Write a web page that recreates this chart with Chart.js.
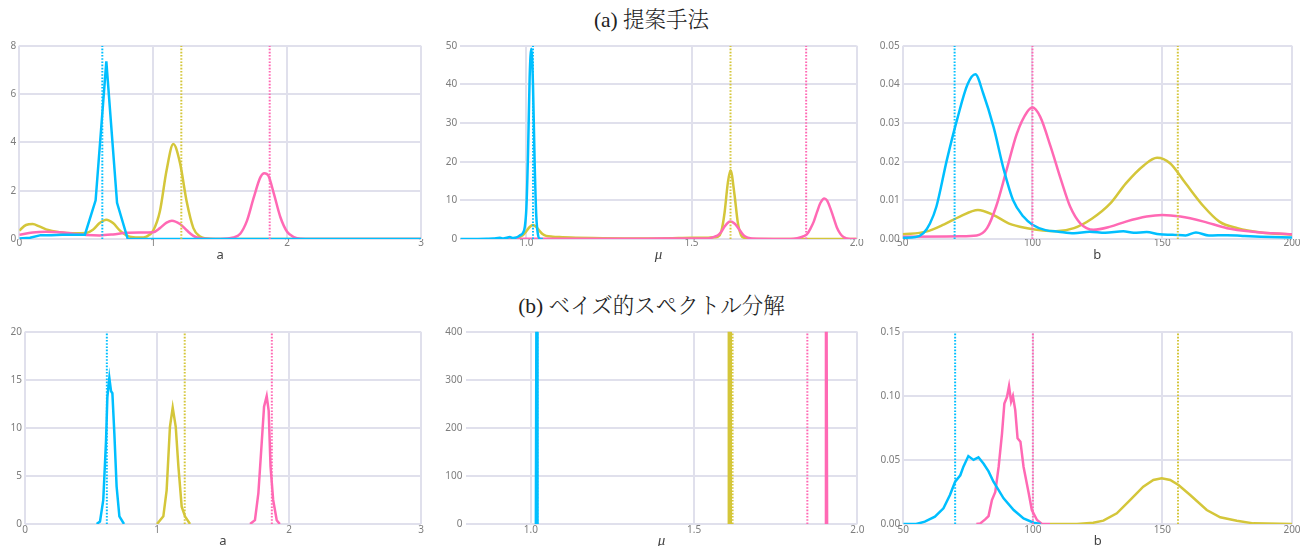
<!DOCTYPE html>
<html>
<head>
<meta charset="utf-8">
<script src="https://cdn.jsdelivr.net/npm/chart.js@4"></script>
<style>
  html, body { margin:0; padding:0; background:#fff; width:1309px; height:546px; overflow:hidden; }
  canvas { position:absolute; }
  .ttl { position:absolute; left:0; width:1303px; text-align:center; font-size:21.5px; line-height:24px;
         font-family:"Liberation Serif","Noto Serif CJK JP","Noto Sans CJK JP",serif; color:#222; font-weight:300; }
</style>
</head>
<body>
<div class="ttl" style="top:8px">(a) 提案手法</div>
<div class="ttl" style="top:294px">(b) ベイズ的スペクトル分解</div>
<canvas id="c1" width="440" height="240" style="left:0px;top:35px"></canvas>
<canvas id="c2" width="435" height="240" style="left:440px;top:35px"></canvas>
<canvas id="c3" width="434" height="240" style="left:875px;top:35px"></canvas>
<canvas id="c4" width="440" height="240" style="left:0px;top:320px"></canvas>
<canvas id="c5" width="435" height="240" style="left:440px;top:320px"></canvas>
<canvas id="c6" width="434" height="240" style="left:875px;top:320px"></canvas>
<script>
// ---------- tick labels ----------
const aTicks = [0, 1, 2, 3];
const muTicks = [1.0, 1.5, 2.0];
const bTicks = [50, 100, 150, 200];
const y1Ticks = [0, 2, 4, 6, 8];
const y2Ticks = [0, 10, 20, 30, 40, 50];
const y3Ticks = [0, 0.01, 0.02, 0.03, 0.04, 0.05];
const y4Ticks = [0, 5, 10, 15, 20];
const y5Ticks = [0, 100, 200, 300, 400];
const y6Ticks = [0, 0.05, 0.10, 0.15];

// ---------- true values (dotted lines): cyan, yellow, pink ----------
const trueA = [0.62, 1.21, 1.87];
const trueMu = [1.02, 1.618, 1.847];
const trueB = [70, 156, 100];

// ---------- (a) panel 1 : a ----------
const p1CyanX = [0, 0.08, 0.16, 0.24, 0.32, 0.41, 0.49, 0.57, 0.65, 0.73, 0.81, 0.89, 1.5, 2.0, 2.5, 3.0];
const p1CyanY = [0.02, 0.05, 0.16, 0.16, 0.18, 0.18, 0.18, 1.6, 7.35, 1.5, 0, 0, 0, 0, 0, 0];
const p1YellowX = [0, 0.05, 0.1, 0.15, 0.2, 0.3, 0.4, 0.5, 0.55, 0.6, 0.65, 0.7, 0.75, 0.8, 0.85, 0.9, 0.95, 1.0, 1.05, 1.1, 1.15, 1.2, 1.25, 1.3, 1.35, 1.4, 1.5, 2.0, 2.5, 3.0];
const p1YellowY = [0.35, 0.58, 0.62, 0.52, 0.4, 0.28, 0.24, 0.25, 0.38, 0.66, 0.8, 0.66, 0.36, 0.15, 0.07, 0.06, 0.1, 0.35, 1.15, 2.85, 3.93, 3.15, 1.55, 0.45, 0.1, 0.02, 0, 0, 0, 0];
const p1PinkX = [0, 0.1, 0.2, 0.3, 0.4, 0.5, 0.6, 0.7, 0.8, 0.9, 1.0, 1.05, 1.1, 1.14, 1.2, 1.25, 1.3, 1.35, 1.4, 1.5, 1.6, 1.65, 1.7, 1.75, 1.8, 1.83, 1.86, 1.9, 1.95, 2.0, 2.05, 2.1, 2.2, 2.5, 3.0];
const p1PinkY = [0.17, 0.27, 0.3, 0.28, 0.22, 0.17, 0.15, 0.19, 0.26, 0.27, 0.28, 0.45, 0.68, 0.76, 0.62, 0.36, 0.13, 0.03, 0.01, 0, 0.06, 0.22, 0.75, 1.7, 2.55, 2.72, 2.62, 1.9, 0.9, 0.3, 0.08, 0.01, 0, 0, 0];

// ---------- (a) panel 2 : mu ----------
const p2CyanX = [0.8, 0.85, 0.88, 0.9, 0.92, 0.93, 0.94, 0.95, 0.96, 0.97, 0.98, 0.99, 0.995, 1.0, 1.005, 1.01, 1.015, 1.02, 1.025, 1.03, 1.035, 1.04, 1.05];
const p2CyanY = [0, 0.02, 0.05, 0.1, 0.3, 0.15, 0.3, 0.5, 0.25, 0.4, 0.9, 1.6, 3, 8, 22, 42, 49.2, 40, 20, 6, 1.2, 0.1, 0];
const p2YellowX = [0.94, 0.96, 0.98, 0.99, 1.0, 1.01, 1.02, 1.03, 1.04, 1.05, 1.06, 1.08, 1.1, 1.15, 1.2, 1.3, 1.4, 1.5, 1.55, 1.57, 1.58, 1.59, 1.6, 1.61, 1.618, 1.63, 1.64, 1.65, 1.66, 1.67, 1.7, 1.8, 1.9, 2.0];
const p2YellowY = [0, 0.05, 0.5, 1.0, 2.0, 3.1, 3.6, 3.1, 2.1, 1.2, 0.8, 0.6, 0.5, 0.35, 0.25, 0.15, 0.15, 0.3, 0.35, 0.45, 0.6, 1.9, 6.8, 14.6, 17.8, 11.5, 4.3, 1.0, 0.3, 0.05, 0, 0, 0, 0];
const p2PinkX = [0.94, 1.0, 1.1, 1.2, 1.3, 1.4, 1.5, 1.55, 1.57, 1.58, 1.59, 1.6, 1.61, 1.618, 1.63, 1.64, 1.65, 1.66, 1.67, 1.7, 1.75, 1.8, 1.82, 1.84, 1.85, 1.86, 1.87, 1.88, 1.89, 1.902, 1.91, 1.92, 1.93, 1.94, 1.95, 1.96, 1.97, 1.98, 2.0];
const p2PinkY = [0, 0.05, 0.08, 0.08, 0.08, 0.1, 0.12, 0.15, 0.6, 1.0, 1.9, 3.2, 4.2, 4.5, 4.0, 3.0, 1.8, 0.8, 0.35, 0.05, 0.02, 0.02, 0.2, 0.75, 1.3, 2.7, 4.5, 7.0, 9.3, 10.5, 10.0, 8.0, 5.5, 3.0, 1.4, 0.5, 0.15, 0.03, 0];

// ---------- (a) panel 3 : b ----------
const p3CyanX = [50, 55, 58, 60.5, 63, 67, 71, 75, 78, 81, 85, 89, 92.5, 96.5, 100, 105, 110, 116, 122, 128, 135, 139, 144, 149, 154, 159, 163, 168, 175, 181, 188, 200];
const p3CyanY = [0.0003, 0.0005, 0.0015, 0.004, 0.0084, 0.0204, 0.031, 0.04, 0.0426, 0.0377, 0.029, 0.0178, 0.0101, 0.0058, 0.0037, 0.0023, 0.0019, 0.0015, 0.0019, 0.0016, 0.002, 0.0016, 0.0018, 0.0012, 0.0011, 0.0009, 0.0017, 0.0009, 0.001, 0.0008, 0.0006, 0.0004];
const p3YellowX = [50, 59, 66, 72, 79, 85, 91, 98, 104, 109, 116, 123, 130, 136, 143, 148, 153, 159, 166, 172, 179, 188, 200];
const p3YellowY = [0.0012, 0.0019, 0.0038, 0.0058, 0.0075, 0.0062, 0.004, 0.0028, 0.0022, 0.002, 0.0028, 0.0053, 0.0092, 0.0144, 0.0191, 0.021, 0.0196, 0.0144, 0.0084, 0.0045, 0.0028, 0.0017, 0.0011];
const p3PinkX = [50, 72, 78.5, 82.5, 86, 90, 94, 98, 100, 103, 107, 111, 114.5, 118.5, 123.5, 130, 136, 144, 150, 157, 166, 175, 185, 200];
const p3PinkY = [0.0006, 0.0007, 0.0009, 0.0028, 0.0084, 0.0178, 0.0273, 0.0329, 0.034, 0.0316, 0.0239, 0.0153, 0.0084, 0.004, 0.0024, 0.0032, 0.0045, 0.0058, 0.0062, 0.0058, 0.0045, 0.0028, 0.0019, 0.0012];

// ---------- (b) panel 4 : a ----------
const p4CyanX = [0.543, 0.568, 0.593, 0.614, 0.624, 0.639, 0.652, 0.662, 0.677, 0.694, 0.715, 0.75];
const p4CyanY = [0, 0.25, 2.5, 8.7, 13.2, 15.2, 13.8, 13.6, 9.4, 3.9, 0.8, 0];
const p4YellowX = [1.0, 1.048, 1.073, 1.098, 1.119, 1.142, 1.162, 1.187, 1.212, 1.25];
const p4YellowY = [0, 0.8, 3.5, 10.1, 12.1, 10.1, 6.0, 1.8, 0.8, 0];
const p4PinkX = [1.705, 1.742, 1.768, 1.793, 1.811, 1.831, 1.846, 1.86, 1.88, 1.907, 1.93];
const p4PinkY = [0, 0.4, 3.2, 8.4, 12.2, 13.3, 11.8, 6.0, 2.5, 0.4, 0];

// ---------- (b) panel 5 : mu ----------
const p5CyanX = [1.0155, 1.017, 1.019, 1.0205];
const p5CyanY = [0, 400, 400, 0];
const p5YellowX = [1.6045, 1.6065, 1.6105, 1.6125];
const p5YellowY = [0, 400, 400, 0];
const p5PinkX = [1.9025, 1.904, 1.906, 1.9075];
const p5PinkY = [0, 400, 400, 0];

// ---------- (b) panel 6 : b ----------
const p6CyanX = [50, 55, 58.3, 62.2, 65.5, 68, 70, 72, 73.2, 75.1, 77.1, 79, 81, 82.9, 84.8, 88.7, 92.6, 96.4, 100.3, 103];
const p6CyanY = [0, 0, 0.0018, 0.0057, 0.0122, 0.0226, 0.033, 0.038, 0.0447, 0.053, 0.05, 0.052, 0.047, 0.041, 0.033, 0.02, 0.0109, 0.0044, 0.001, 0];
const p6PinkX = [78.2, 79.7, 81.6, 82.9, 84.2, 85.5, 86.8, 88.1, 89, 90, 90.8, 91.6, 92.3, 93.2, 94.1, 95.2, 96.4, 98.4, 99.6, 101.6, 103.5, 106.6];
const p6PinkY = [0, 0.0005, 0.0036, 0.0062, 0.0187, 0.025, 0.0447, 0.0707, 0.094, 0.099, 0.1076, 0.0954, 0.0998, 0.0889, 0.0668, 0.0642, 0.0447, 0.0239, 0.0109, 0.0031, 0, 0];
const p6YellowX = [106.6, 117, 123.3, 127.2, 132.4, 137.5, 142.6, 146.5, 149.7, 153, 156.2, 160.7, 167.1, 172.3, 178.7, 185.1, 200];
const p6YellowY = [0, 0, 0.001, 0.0026, 0.0083, 0.0187, 0.0291, 0.0343, 0.0356, 0.0343, 0.0304, 0.0226, 0.0109, 0.0052, 0.0026, 0.0005, 0];

// ---------- styling ----------
const CYAN = '#00bfff', YELLOW = '#d4c63a', PINK = '#ff69b4';
const GRID = 'rgb(224,224,236)';
const TICKFONT = { family: '"Noto Sans", "Liberation Sans", sans-serif', size: 10 };

function pts(xs, ys) { return xs.map((x, i) => ({ x: x, y: ys[i] })); }

function curve(xs, ys, color, smooth) {
  return { data: pts(xs, ys), borderColor: color, borderWidth: 2.5, pointRadius: 0, fill: false,
           tension: smooth ? 0.4 : 0, cubicInterpolationMode: smooth ? 'monotone' : 'default' };
}
function vline(v, yTicks, color) {
  return { data: [{ x: v, y: yTicks[0] }, { x: v, y: yTicks[yTicks.length - 1] }], borderColor: color,
           borderWidth: 2, borderDash: [1.6, 1.6], pointRadius: 0, fill: false, tension: 0 };
}

function panel(id, cfg) {
  const xT = cfg.xTicks, yT = cfg.yTicks;
  new Chart(document.getElementById(id), {
    type: 'line',
    data: { datasets: cfg.datasets },
    options: {
      responsive: false, animation: false, devicePixelRatio: 1,
      layout: { padding: { left: 0, right: cfg.pr, top: cfg.pt, bottom: 0 } },
      plugins: { legend: { display: false }, tooltip: { enabled: false } },
      scales: {
        x: {
          type: 'linear', min: cfg.xMin, max: xT[xT.length - 1],
          afterBuildTicks: s => { s.ticks = xT.map(v => ({ value: v })); },
          afterFit: s => { s.height = cfg.xH; },
          grid: { color: GRID, lineWidth: 2, drawTicks: false },
          border: { display: false },
          ticks: { autoSkip: false, maxRotation: 0, padding: cfg.xPad, color: '#7d7d7d', font: TICKFONT,
                   callback: v => Number(v).toFixed(cfg.xDec) },
          title: { display: true, text: cfg.xTitle, color: '#444',
                   font: cfg.italic ? { family: '"Liberation Serif", serif', size: 15, style: 'italic' }
                                    : { family: '"Noto Sans", sans-serif', size: 13 },
                   padding: { top: 0, bottom: cfg.tPad } }
        },
        y: {
          type: 'linear', min: yT[0], max: yT[yT.length - 1],
          afterBuildTicks: s => { s.ticks = yT.map(v => ({ value: v })); },
          afterFit: s => { s.width = cfg.yW; },
          grid: { color: GRID, lineWidth: 2, drawTicks: false },
          border: { display: false },
          ticks: { autoSkip: false, padding: 3, color: '#7d7d7d', font: TICKFONT,
                   callback: v => Number(v).toFixed(cfg.yDec) }
        }
      }
    }
  });
}

function sets(tv, yT, c, y, p, smooth) {
  return [
    vline(tv[0], yT, CYAN), vline(tv[1], yT, YELLOW), vline(tv[2], yT, PINK),
    curve(c[0], c[1], CYAN, smooth.c), curve(p[0], p[1], PINK, smooth.p), curve(y[0], y[1], YELLOW, smooth.y)
  ];
}

// top row
panel('c1', { xTicks: aTicks, xMin: 0, yTicks: y1Ticks, xDec: 0, yDec: 0, yW: 19.3, pr: 19, pt: 10.7, xH: 36, xPad: -2, tPad: 11.5, xTitle: 'a',
  datasets: sets(trueA, y1Ticks, [p1CyanX, p1CyanY], [p1YellowX, p1YellowY], [p1PinkX, p1PinkY], { c: false, y: true, p: true }) });
panel('c2', { xTicks: muTicks, xMin: 0.8, yTicks: y2Ticks, xDec: 1, yDec: 0, yW: 20.3, pr: 18.3, pt: 10.7, xH: 36, xPad: -2, tPad: 10.5, xTitle: 'μ', italic: true,
  datasets: sets(trueMu, y2Ticks, [p2CyanX, p2CyanY], [p2YellowX, p2YellowY], [p2PinkX, p2PinkY], { c: true, y: true, p: true }) });
panel('c3', { xTicks: bTicks, xMin: 50, yTicks: y3Ticks, xDec: 0, yDec: 2, yW: 27.7, pr: 17, pt: 10.7, xH: 36, xPad: -2, tPad: 11.5, xTitle: 'b',
  datasets: sets(trueB, y3Ticks, [p3CyanX, p3CyanY], [p3YellowX, p3YellowY], [p3PinkX, p3PinkY], { c: true, y: true, p: true }) });
// bottom row
panel('c4', { xTicks: aTicks, xMin: 0, yTicks: y4Ticks, xDec: 0, yDec: 0, yW: 25, pr: 19, pt: 11.7, xH: 36, xPad: 0, tPad: 10.5, xTitle: 'a',
  datasets: sets(trueA, y4Ticks, [p4CyanX, p4CyanY], [p4YellowX, p4YellowY], [p4PinkX, p4PinkY], { c: false, y: false, p: false }) });
panel('c5', { xTicks: muTicks, xMin: 0.8, yTicks: y5Ticks, xDec: 1, yDec: 0, yW: 25.5, pr: 17.7, pt: 11.7, xH: 36, xPad: 0, tPad: 9.5, xTitle: 'μ', italic: true,
  datasets: sets(trueMu, y5Ticks, [p5CyanX, p5CyanY], [p5YellowX, p5YellowY], [p5PinkX, p5PinkY], { c: false, y: false, p: false }) });
panel('c6', { xTicks: bTicks, xMin: 50, yTicks: y6Ticks, xDec: 0, yDec: 2, yW: 28.3, pr: 17, pt: 11.7, xH: 36, xPad: 0, tPad: 10.5, xTitle: 'b',
  datasets: sets(trueB, y6Ticks, [p6CyanX, p6CyanY], [p6YellowX, p6YellowY], [p6PinkX, p6PinkY], { c: false, y: false, p: false }) });
</script>
</body>
</html>
